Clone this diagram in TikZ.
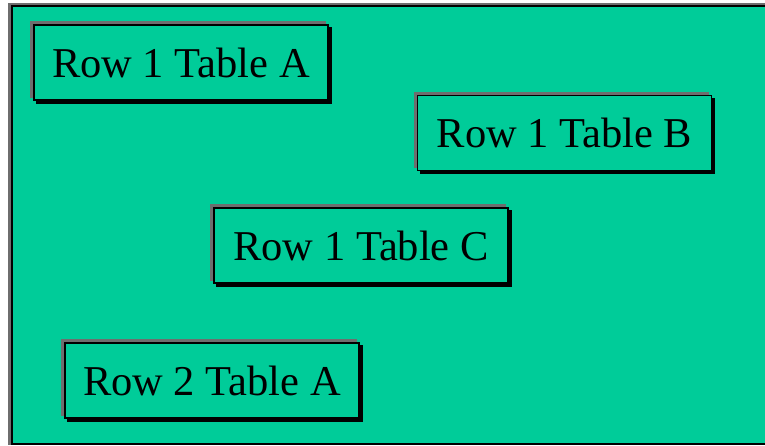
\documentclass[tikz,border=0pt]{standalone}
\usepackage{fontspec}
\setmainfont{Liberation Serif}
\usepackage{tikz}

\definecolor{tablegreen}{RGB}{0,204,153}
\definecolor{bevelgray}{RGB}{110,110,110}

\tikzset{
    tablebox/.style={draw=black, line width=1.6pt, fill=tablegreen,
        minimum width=294pt, minimum height=75pt, inner sep=0pt,
        font=\fontsize{42.5}{50}\selectfont,
        preaction={fill=black, draw=black, line width=1.6pt,
            transform canvas={shift={(3pt,-3pt)}}},
        preaction={fill=bevelgray, draw=bevelgray, line width=1.6pt,
            transform canvas={shift={(-3pt,3pt)}}}}
}

\begin{document}
\begin{tikzpicture}[x=1pt, y=1pt]
    \useasboundingbox (0, 0) rectangle (765, -446);
    % frame
    \fill[bevelgray] (8, -3) rectangle (765, -445);
    \fill[black] (11, -5) rectangle (765, -445);
    \fill[tablegreen] (13, -7) rectangle (765, -443);
    % tables
    \node[tablebox] (r1a) at (181, -62.5) {Row 1 Table A};
    \node[tablebox] (r1b) at (564.5, -133) {Row 1 Table B};
    \node[tablebox] (r1c) at (361, -245.5) {Row 1 Table C};
    \node[tablebox] (r2a) at (212, -380.5) {Row 2 Table A};
\end{tikzpicture}
\end{document}
